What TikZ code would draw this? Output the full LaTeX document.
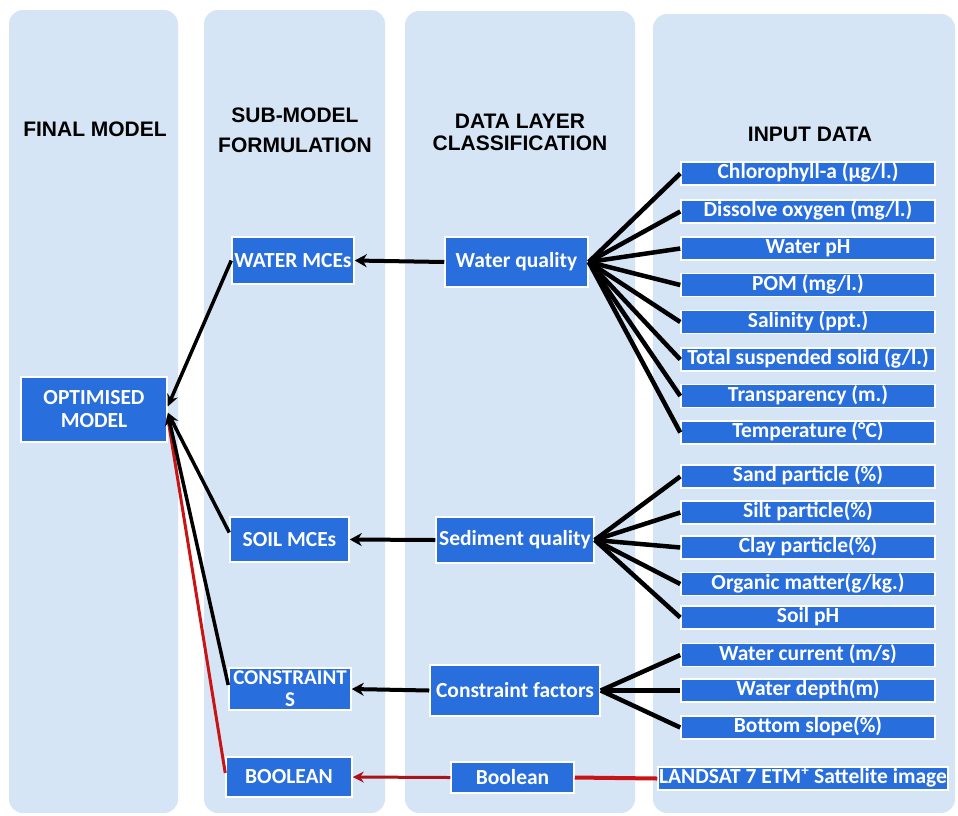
\documentclass[tikz,border=0pt]{standalone}
\usepackage{fontspec}
\setmainfont{Liberation Sans}
\newfontfamily\boxfont{Carlito}
\usetikzlibrary{arrows.meta}
\definecolor{panel}{RGB}{214,229,245}
\definecolor{boxblue}{RGB}{40,110,220}
\definecolor{redline}{RGB}{200,20,20}
\definecolor{darkred}{RGB}{170,20,25}
\tikzset{
  panelbox/.style={fill=panel, rounded corners=14pt},
  bbox/.style={fill=boxblue, draw=white, line width=1.5pt, text=white,
    font=\boxfont\bfseries\fontsize{21.5}{23}\selectfont, inner sep=0pt, align=center},
  inbox/.style={bbox, minimum width=254pt, minimum height=23pt, text height=14.5pt, text depth=4.5pt},
  head/.style={font=\bfseries\fontsize{21}{30}\selectfont, align=center},
  fan/.style={line width=4.5pt, black},
  arr/.style={line width=4pt, black, -{Stealth[length=12pt,width=13pt]}},
  diag/.style={line width=3.5pt, black, -{Stealth[length=12pt,width=11pt]}},
}
\begin{document}
\begin{tikzpicture}[x=1pt,y=-1pt]
\useasboundingbox[fill=white] (0,0) rectangle (958,815);
% panels
\fill[panelbox] (9,10) rectangle (178,813);
\fill[panelbox] (204,10) rectangle (385,813);
\fill[panelbox] (405,11) rectangle (635,813);
\fill[panelbox] (653,14) rectangle (955,813);
% headers
\node[head] (h1) at (95,129) {FINAL MODEL};
\node[head] (h2) at (295,130) {SUB-MODEL\\FORMULATION};
\node[head, font=\bfseries\fontsize{21}{22}\selectfont] (h3) at (520,132) {DATA LAYER\\CLASSIFICATION};
\node[head] (h4) at (810,134) {INPUT DATA};
% main boxes
\node[bbox, minimum width=146pt, minimum height=65pt] (opt) at (94,409.5) {OPTIMISED\\MODEL};
\node[bbox, minimum width=122pt, minimum height=47pt] (wmce) at (293,260.5) {WATER MCEs};
\node[bbox, minimum width=143pt, minimum height=50pt] (wq) at (516.5,262) {Water quality};
\node[bbox, minimum width=119pt, minimum height=45pt] (smce) at (289.5,539.5) {SOIL MCEs};
\node[bbox, minimum width=158pt, minimum height=46pt] (sq) at (515,540) {Sediment quality};
\node[bbox, minimum width=122pt, minimum height=42pt, font=\boxfont\bfseries\fontsize{21}{22}\selectfont] (cons) at (290,689) {CONSTRAINT\\S};
\node[bbox, minimum width=170pt, minimum height=51pt] (cf) at (515,690.5) {Constraint factors};
\node[bbox, minimum width=126pt, minimum height=40pt] (boolt) at (289,777) {BOOLEAN};
\node[bbox, minimum width=123pt, minimum height=31pt] (boolsrc) at (512.5,777.5) {Boolean};
% input boxes
\node[inbox] (in1) at (808,173.5) {Chlorophyll-a (µg/l.)};
\node[inbox] (in2) at (808,211.5) {Dissolve oxygen (mg/l.)};
\node[inbox] (in3) at (808,248.5) {Water pH};
\node[inbox] (in4) at (808,285) {POM (mg/l.)};
\node[inbox] (in5) at (808,322) {Salinity (ppt.)};
\node[inbox] (in6) at (808,359.5) {Total suspended solid (g/l.)};
\node[inbox] (in7) at (808,396) {Transparency (m.)};
\node[inbox] (in8) at (808,432.5) {Temperature (°C)};
\node[inbox] (in9) at (808,476.5) {Sand particle (\%)};
\node[inbox] (in10) at (808,512.5) {Silt particle(\%)};
\node[inbox] (in11) at (808,547.5) {Clay particle(\%)};
\node[inbox] (in12) at (808,584) {Organic matter(g/kg.)};
\node[inbox] (in13) at (808,617.5) {Soil pH};
\node[inbox] (in14) at (808,655) {Water current (m/s)};
\node[inbox] (in15) at (808,690.5) {Water depth(m)};
\node[inbox] (in16) at (808,727.5) {Bottom slope(\%)};
\node[inbox, minimum width=290pt] (landsat) at (803,778.5) {LANDSAT 7 ETM\textsuperscript{+} Sattelite image};
% fans
\foreach \n in {in1,in2,in3,in4,in5,in6,in7,in8} \draw[fan] (wq.east) -- (\n.west);
\foreach \n in {in9,in10,in11,in12,in13} \draw[fan] (sq.east) -- (\n.west);
\foreach \n in {in14,in15,in16} \draw[fan] (cf.east) -- (\n.west);
% horizontal arrows
\draw[arr] (wq.west) -- (wmce.east);
\draw[arr] (sq.west) -- (smce.east);
\draw[arr] (cf.west) -- (cons.east);
\draw[redline, line width=4pt] (landsat.west) -- (boolsrc.east);
\draw[darkred, line width=3pt, -{Stealth[length=11pt,width=11pt]}] (boolsrc.west) -- (boolt.east);
% to optimised model
\draw[redline, line width=3pt] ([yshift=4pt]boolt.west) -- ([yshift=-8pt]opt.east);
\draw[diag] (wmce.west) -- ([yshift=3pt]opt.east);
\draw[diag] ([yshift=7pt]smce.west) -- ([yshift=-3pt]opt.east);
\draw[diag] ([yshift=4pt]cons.west) -- ([yshift=-4pt]opt.east);
\end{tikzpicture}
\end{document}
